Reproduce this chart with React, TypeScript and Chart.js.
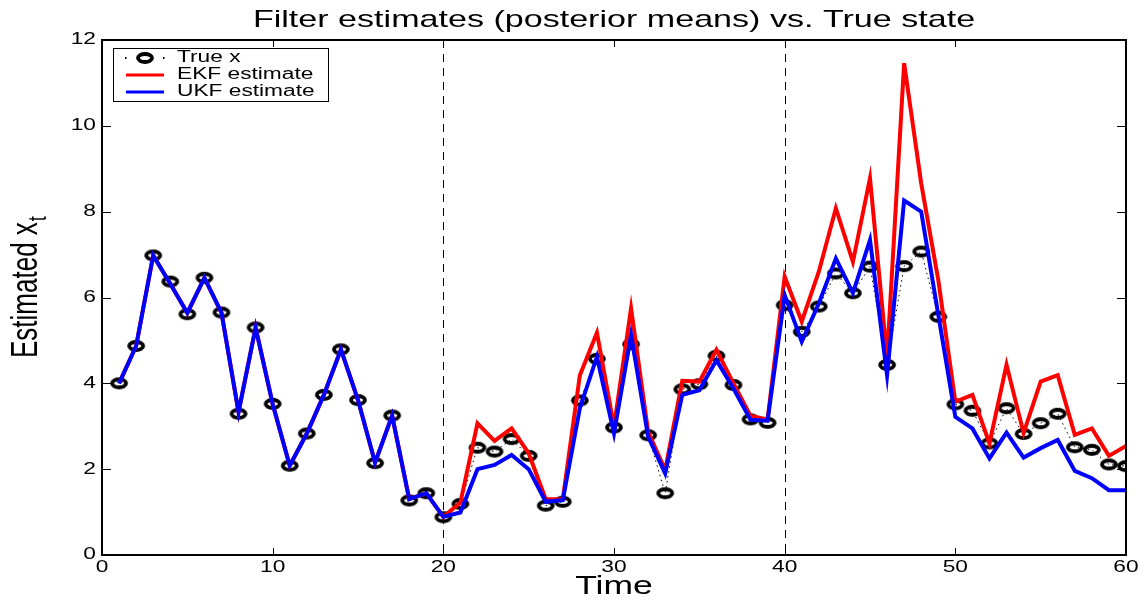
import React, { useEffect, useRef } from 'react';
import { Chart, registerables } from 'chart.js';

Chart.register(...registerables);

// Time index of every filtering step
const TIME_STEPS = [
  1, 2, 3, 4, 5, 6, 7, 8, 9, 10, 11, 12, 13, 14, 15, 16, 17, 18, 19, 20,
  21, 22, 23, 24, 25, 26, 27, 28, 29, 30, 31, 32, 33, 34, 35, 36, 37, 38, 39, 40,
  41, 42, 43, 44, 45, 46, 47, 48, 49, 50, 51, 52, 53, 54, 55, 56, 57, 58, 59, 60,
];

// True hidden state
const TRUE_X = [
  4.0, 4.87, 6.98, 6.37, 5.61, 6.46, 5.65, 3.29, 5.3, 3.52, 2.08, 2.83, 3.73, 4.79, 3.61, 2.14, 3.25, 1.27, 1.44, 0.88,
  1.19, 2.5, 2.41, 2.7, 2.31, 1.15, 1.24, 3.6, 4.57, 2.97, 4.91, 2.79, 1.44, 3.86, 3.98, 4.64, 3.96, 3.16, 3.08, 5.82,
  5.2, 5.79, 6.56, 6.1, 6.72, 4.43, 6.73, 7.07, 5.55, 3.51, 3.36, 2.6, 3.42, 2.82, 3.07, 3.29, 2.51, 2.45, 2.11, 2.07,
];

// Extended Kalman filter posterior means
const EKF_EST = [
  4.0, 4.87, 6.98, 6.32, 5.64, 6.46, 5.65, 3.33, 5.3, 3.52, 2.08, 2.83, 3.73, 4.79, 3.61, 2.15, 3.25, 1.3, 1.44, 0.89,
  1.22, 3.07, 2.66, 2.95, 2.37, 1.3, 1.3, 4.19, 5.18, 2.99, 5.75, 2.87, 1.98, 4.06, 4.04, 4.78, 4.0, 3.24, 3.16, 6.49,
  5.44, 6.6, 8.08, 6.83, 8.78, 4.6, 11.46, 8.66, 6.41, 3.57, 3.73, 2.6, 4.43, 2.84, 4.04, 4.19, 2.8, 2.95, 2.31, 2.54,
];

// Unscented Kalman filter posterior means
const UKF_EST = [
  4.0, 4.87, 6.98, 6.32, 5.64, 6.46, 5.65, 3.33, 5.3, 3.52, 2.08, 2.83, 3.73, 4.79, 3.61, 2.15, 3.25, 1.3, 1.44, 0.89,
  0.99, 2.0, 2.1, 2.33, 2.0, 1.24, 1.28, 3.42, 4.62, 2.83, 5.13, 2.76, 1.9, 3.73, 3.84, 4.54, 3.88, 3.15, 3.13, 6.06,
  4.97, 5.86, 6.91, 6.1, 7.34, 4.19, 8.26, 8.0, 5.6, 3.22, 2.95, 2.25, 2.85, 2.27, 2.49, 2.68, 1.96, 1.79, 1.51, 1.51,
];

const X_TICKS = [0, 10, 20, 30, 40, 50, 60];
const Y_TICKS = [0, 2, 4, 6, 8, 10, 12];
const SEGMENT_MARKS = [20, 40];

const TITLE = 'Filter estimates (posterior means) vs. True state';
const X_LABEL = 'Time';
const Y_LABEL = 'Estimated x';
const Y_LABEL_SUB = 't';
const SERIES_NAMES = ['True x', 'EKF estimate', 'UKF estimate'];
const SERIES_COLORS = ['#000000', '#ff0000', '#0000ff'];

const FONT = '"Liberation Sans", Arial, Helvetica, sans-serif';
const STRETCH = 1.42;

// Hollow, slightly flattened ring used as the true-state marker
function makeRing(): HTMLCanvasElement {
  const c = document.createElement('canvas');
  c.width = 24;
  c.height = 18;
  const g = c.getContext('2d')!;
  g.lineWidth = 3.8;
  g.strokeStyle = '#000';
  g.beginPath();
  g.ellipse(12, 9, 7, 4, 0, 0, Math.PI * 2);
  g.stroke();
  return c;
}

function wideText(
  ctx: CanvasRenderingContext2D,
  text: string,
  x: number,
  y: number,
  size: number,
  align: CanvasTextAlign,
  baseline: CanvasTextBaseline,
) {
  ctx.save();
  ctx.translate(x, y);
  ctx.scale(STRETCH, 1);
  ctx.font = `${size}px ${FONT}`;
  ctx.textAlign = align;
  ctx.textBaseline = baseline;
  ctx.fillStyle = '#000';
  ctx.fillText(text, 0, 0);
  ctx.restore();
}

const decorPlugin = {
  id: 'decor',
  beforeDatasetsDraw(chart: any) {
    const { ctx, chartArea, scales } = chart;
    ctx.save();
    ctx.strokeStyle = '#000';
    ctx.lineWidth = 1;
    ctx.setLineDash([8, 6]);
    for (const v of SEGMENT_MARKS) {
      const px = Math.round(scales.x.getPixelForValue(v)) + 0.5;
      ctx.beginPath();
      ctx.moveTo(px, chartArea.top);
      ctx.lineTo(px, chartArea.bottom);
      ctx.stroke();
    }
    ctx.restore();
  },
  afterDraw(chart: any) {
    const { ctx, chartArea, scales } = chart;
    const { left, right, top, bottom } = chartArea;
    ctx.save();

    // inward tick marks on all four sides
    ctx.strokeStyle = '#000';
    ctx.lineWidth = 1;
    ctx.setLineDash([]);
    for (const v of X_TICKS) {
      const px = Math.round(scales.x.getPixelForValue(v)) + 0.5;
      ctx.beginPath();
      ctx.moveTo(px, bottom);
      ctx.lineTo(px, bottom - 7);
      ctx.moveTo(px, top);
      ctx.lineTo(px, top + 7);
      ctx.stroke();
    }
    for (const v of Y_TICKS) {
      const py = Math.round(scales.y.getPixelForValue(v)) + 0.5;
      ctx.beginPath();
      ctx.moveTo(left, py);
      ctx.lineTo(left + 9, py);
      ctx.moveTo(right, py);
      ctx.lineTo(right - 9, py);
      ctx.stroke();
    }

    // axes box
    ctx.lineWidth = 2;
    ctx.strokeRect(left, top, right - left, bottom - top);

    // tick labels
    for (const v of X_TICKS) {
      wideText(ctx, String(v), scales.x.getPixelForValue(v), bottom + 13, 16, 'center', 'middle');
    }
    for (const v of Y_TICKS) {
      wideText(ctx, String(v), left - 6, scales.y.getPixelForValue(v), 16, 'right', 'middle');
    }

    // titles
    wideText(ctx, TITLE, (left + right) / 2, 27, 24, 'center', 'alphabetic');
    wideText(ctx, X_LABEL, (left + right) / 2, 594, 25, 'center', 'alphabetic');

    ctx.save();
    ctx.translate(37, 358);
    ctx.scale(STRETCH, 1);
    ctx.rotate(-Math.PI / 2);
    ctx.font = `26px ${FONT}`;
    ctx.textAlign = 'left';
    ctx.textBaseline = 'alphabetic';
    ctx.fillStyle = '#000';
    ctx.fillText(Y_LABEL, 0, 0);
    const w = ctx.measureText(Y_LABEL).width;
    ctx.font = `18px ${FONT}`;
    ctx.fillText(Y_LABEL_SUB, w + 1, 6);
    ctx.restore();

    // legend box
    const bx = 113, by = 48, bw = 215, bh = 53;
    ctx.fillStyle = '#fff';
    ctx.fillRect(bx, by, bw, bh);
    ctx.strokeStyle = '#000';
    ctx.lineWidth = 1;
    ctx.strokeRect(bx + 0.5, by + 0.5, bw, bh);
    const rows = [58, 75, 92];
    const ring = chart.data.datasets[0].pointStyle;
    rows.forEach((ry: number, i: number) => {
      if (i === 0) {
        ctx.fillStyle = '#000';
        ctx.fillRect(125, ry - 1, 1.5, 2);
        ctx.fillRect(163, ry - 1, 1.5, 2);
        ctx.drawImage(ring, 145 - ring.width / 2, ry - ring.height / 2);
      } else {
        ctx.strokeStyle = SERIES_COLORS[i];
        ctx.lineWidth = 3;
        ctx.beginPath();
        ctx.moveTo(126, ry);
        ctx.lineTo(164, ry);
        ctx.stroke();
      }
      wideText(ctx, SERIES_NAMES[i], 177, ry, 16, 'left', 'middle');
    });

    ctx.restore();
  },
};

export default function App() {
  const canvasRef = useRef<HTMLCanvasElement | null>(null);

  useEffect(() => {
    const canvas = canvasRef.current;
    if (!canvas) return;
    const ring = makeRing();
    const toPoints = (vals: number[]) => vals.map((v, i) => ({ x: TIME_STEPS[i], y: v }));

    const chart = new Chart(canvas, {
      type: 'line',
      data: {
        datasets: [
          {
            label: SERIES_NAMES[0],
            data: toPoints(TRUE_X),
            borderColor: SERIES_COLORS[0],
            borderWidth: 1,
            borderDash: [1.5, 3.5],
            pointStyle: ring as any,
            pointRadius: 7,
            pointBackgroundColor: 'transparent',
            pointBorderWidth: 0,
            fill: false,
            tension: 0,
            order: 3,
          },
          {
            label: SERIES_NAMES[1],
            data: toPoints(EKF_EST),
            borderColor: SERIES_COLORS[1],
            borderWidth: 4,
            pointRadius: 0,
            fill: false,
            tension: 0,
            order: 2,
          },
          {
            label: SERIES_NAMES[2],
            data: toPoints(UKF_EST),
            borderColor: SERIES_COLORS[2],
            borderWidth: 4,
            pointRadius: 0,
            fill: false,
            tension: 0,
            order: 1,
          },
        ],
      },
      options: {
        animation: false,
        responsive: false,
        events: [],
        layout: { padding: { top: 40, right: 21, left: 0, bottom: 0 } },
        plugins: {
          legend: { display: false },
          tooltip: { enabled: false },
          title: { display: false },
        },
        scales: {
          x: {
            type: 'linear',
            min: 0,
            max: 60,
            grid: { display: false, drawTicks: false },
            border: { display: false },
            ticks: { display: false },
            afterBuildTicks: (s: any) => {
              s.ticks = X_TICKS.map((v) => ({ value: v }));
            },
            afterFit: (s: any) => {
              s.height = 46;
            },
          },
          y: {
            type: 'linear',
            min: 0,
            max: 12,
            grid: { display: false, drawTicks: false },
            border: { display: false },
            ticks: { display: false },
            afterBuildTicks: (s: any) => {
              s.ticks = Y_TICKS.map((v) => ({ value: v }));
            },
            afterFit: (s: any) => {
              s.width = 102;
            },
          },
        },
      },
      plugins: [decorPlugin],
    });

    return () => chart.destroy();
  }, []);

  return (
    <div style={{ position: 'absolute', left: 0, top: 0, width: 1147, height: 601, background: '#fff' }}>
      <canvas ref={canvasRef} width={1147} height={601} style={{ display: 'block' }} />
    </div>
  );
}
